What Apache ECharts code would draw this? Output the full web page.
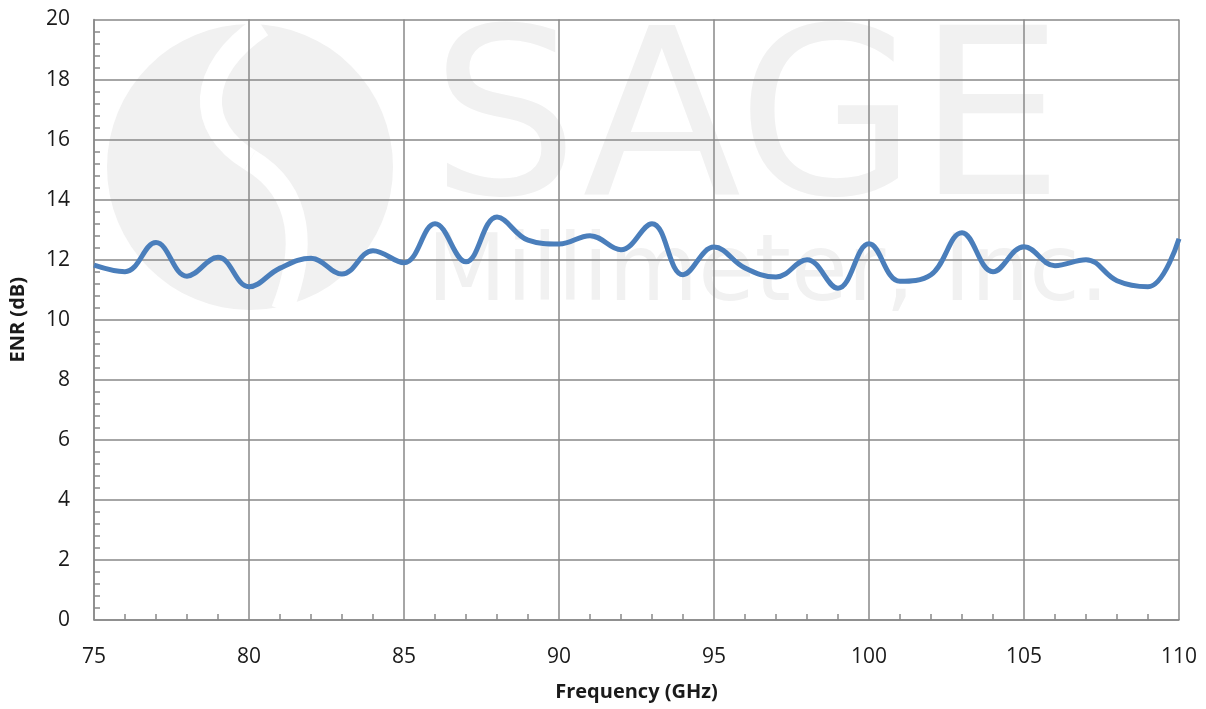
<!DOCTYPE html>
<html>
<head>
<meta charset="utf-8">
<script src="https://cdn.jsdelivr.net/npm/echarts@6/dist/echarts.min.js"></script>
<style>
html,body{margin:0;padding:0;background:#fff;}
#chart{width:1206px;height:709px;}
</style>
</head>
<body>
<div id="chart"></div>
<script>
// Frequency (GHz) sample points
const frequencies = [75,76,77,78,79,80,81,82,83,84,85,86,87,88,89,90,91,92,93,94,95,96,97,98,99,100,101,102,103,104,105,106,107,108,109,110];
// ENR (dB) values
const enrValues = [11.82,11.6,12.57,11.45,12.08,11.1,11.72,12.05,11.52,12.3,11.9,13.2,11.93,13.42,12.65,12.52,12.8,12.33,13.2,11.5,12.42,11.72,11.42,12.0,11.05,12.53,11.28,11.5,12.9,11.6,12.43,11.8,12.0,11.3,11.1,12.7];
const xTicks = [75,80,85,90,95,100,105,110];
const yTicks = [0,2,4,6,8,10,12,14,16,18,20];
const xTitle = 'Frequency (GHz)';
const yTitle = 'ENR (dB)';
const watermarkMain = 'SAGE';
const watermarkSub = 'Millimeter, Inc.';

const chart = echarts.init(document.getElementById('chart'), null, {renderer:'canvas'});
const gridColor = '#898989';
const labelFont = {fontFamily:'Open Sans', fontSize:21, color:'#1a1a1a'};
const wm = '#f1f1f1';

const option = {
  backgroundColor:'#fff',
  animation:false,
  graphic:[
    {type:'circle', z:-10, shape:{cx:250, cy:167, r:143}, style:{fill:wm}},
    {type:'bezierCurve', z:-9, shape:{x1:262, y1:26, cpx1:196, cpy1:70, cpx2:196, cpy2:128, x2:250, y2:160}, style:{fill:null, stroke:'#ffffff', lineWidth:22}},
    {type:'bezierCurve', z:-9, shape:{x1:250, y1:160, cpx1:304, cpy1:192, cpx2:306, cpy2:250, x2:282, y2:310}, style:{fill:null, stroke:'#ffffff', lineWidth:22}},
    {type:'text', z:-10, x:431, y:134, style:{text:watermarkMain, font:'232px "DejaVu Sans"', fill:wm, align:'left', verticalAlign:'middle'}},
    {type:'text', z:-10, x:427, y:276, style:{text:watermarkSub, font:'92px "DejaVu Sans"', fill:wm, align:'left', verticalAlign:'middle'}}
  ],
  grid:{left:94, right:27, top:19.5, bottom:89, containLabel:false},
  xAxis:{
    type:'value', min:75, max:110, interval:5,
    name:xTitle, nameLocation:'middle', nameGap:62,
    nameTextStyle:{fontFamily:'Open Sans', fontWeight:'bold', fontSize:20, color:'#1a1a1a'},
    axisLine:{show:true, lineStyle:{color:gridColor, width:1.5}},
    axisTick:{show:false, inside:true},
    minorTick:{show:true, splitNumber:5, length:6, lineStyle:{color:gridColor, width:1.5}},
    axisLabel:Object.assign({margin:27, formatter:v=>xTicks.includes(v)?String(v):''}, labelFont),
    splitLine:{show:true, lineStyle:{color:gridColor, width:1.5}}
  },
  yAxis:{
    type:'value', min:0, max:20, interval:2,
    name:yTitle, nameLocation:'middle', nameGap:66,
    nameTextStyle:{fontFamily:'Open Sans', fontWeight:'bold', fontSize:20, color:'#1a1a1a'},
    axisLine:{show:true, lineStyle:{color:gridColor, width:1.5}},
    axisTick:{show:false, inside:true},
    minorTick:{show:true, splitNumber:5, length:6, lineStyle:{color:gridColor, width:1.5}},
    axisLabel:Object.assign({margin:24, formatter:v=>yTicks.includes(v)?String(v):''}, labelFont),
    splitLine:{show:true, lineStyle:{color:gridColor, width:1.5}}
  },
  series:[{
    type:'line',
    data:frequencies.map((f,i)=>[f, enrValues[i]]),
    smooth:0.4,
    showSymbol:false,
    symbol:'none',
    lineStyle:{color:'#4a7ebb', width:5},
    z:5
  }]
};
chart.setOption(option);
</script>
</body>
</html>
